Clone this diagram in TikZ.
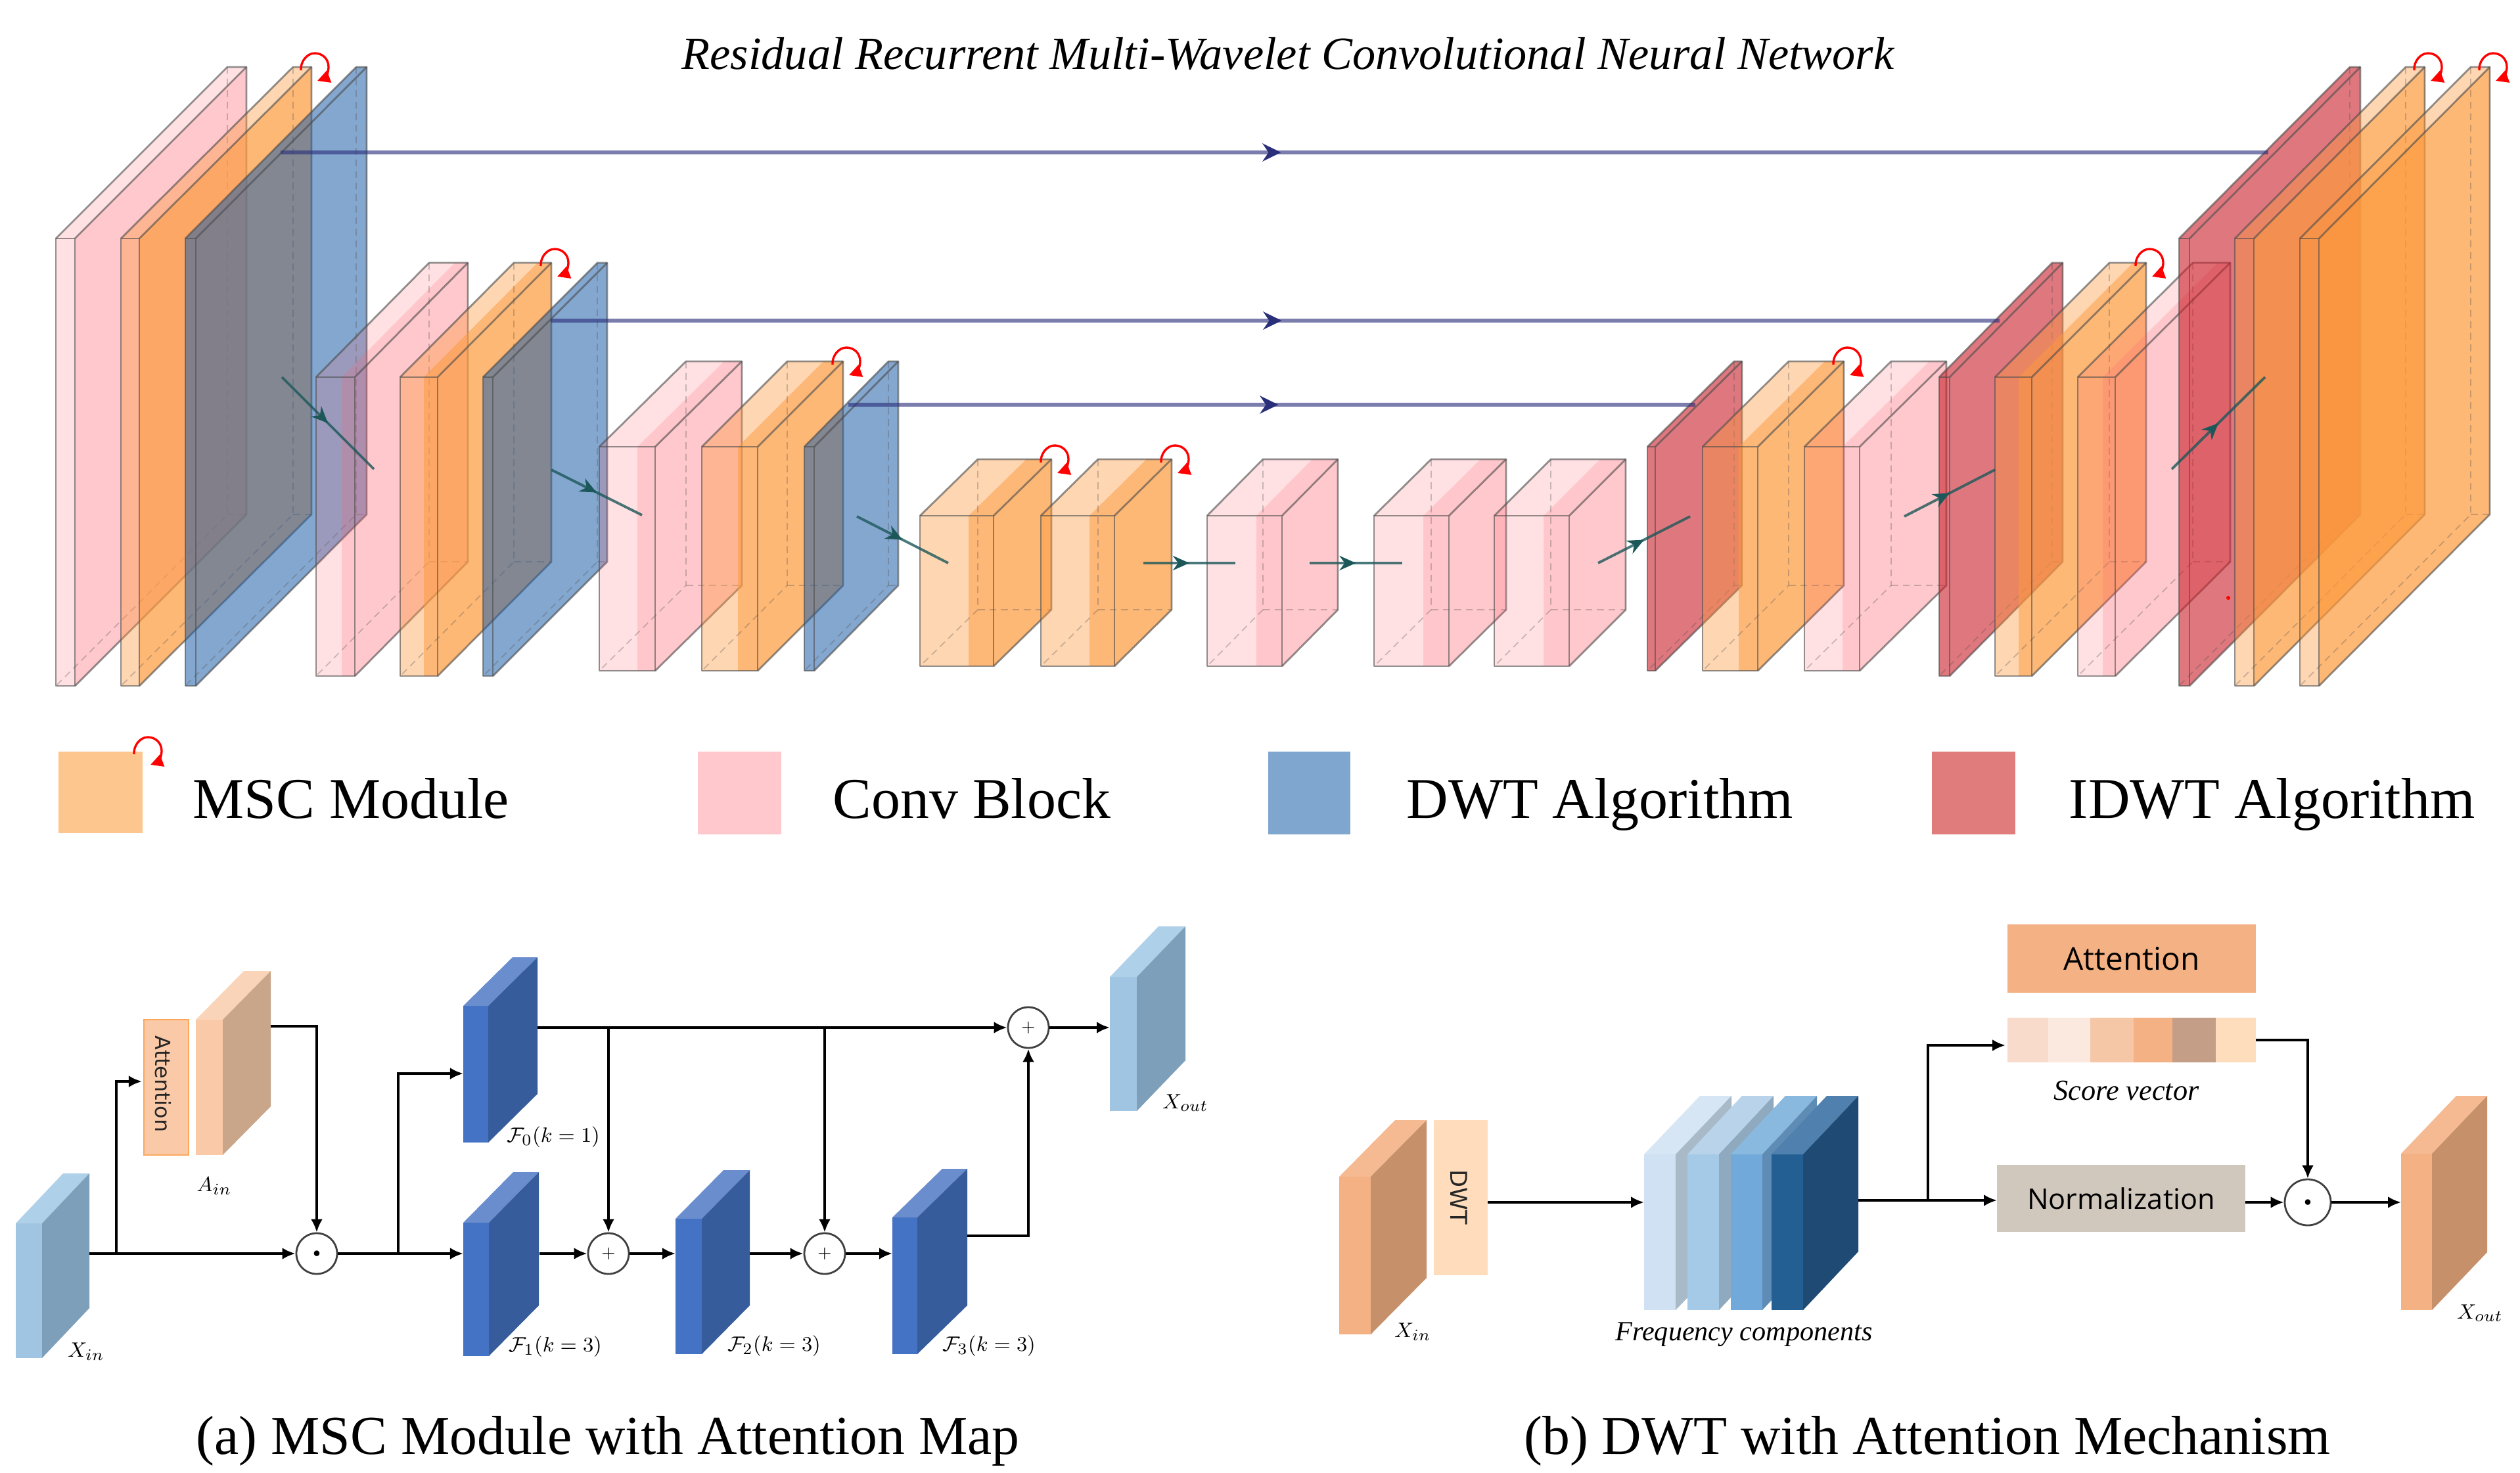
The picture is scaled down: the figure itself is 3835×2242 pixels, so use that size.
\documentclass[tikz,border=0pt]{standalone}
\usepackage{fontspec}
\usepackage{amsmath,amssymb}
\usetikzlibrary{arrows.meta,calc,decorations.markings}
\newfontfamily\tms{Liberation Serif}
\newfontfamily\djv{DejaVu Sans}
\newfontfamily\opn{Open Sans}
% colours of the translucent network faces
\definecolor{cOrange}{RGB}{253,154,61}
\definecolor{cPink}{RGB}{255,98,109}
\definecolor{cBlue}{RGB}{31,95,168}
\definecolor{cRed}{RGB}{200,30,40}
\definecolor{lgOrange}{RGB}{253,198,142}
\definecolor{lgPink}{RGB}{255,200,204}
\definecolor{lgBlue}{RGB}{126,166,206}
\definecolor{lgRed}{RGB}{224,124,124}
\definecolor{skipc}{RGB}{42,47,122}
\definecolor{tealc}{RGB}{28,88,90}
\definecolor{dwtfill}{RGB}{255,221,188}
\definecolor{normfill}{RGB}{208,199,189}
\definecolor{sv1}{RGB}{248,219,203}
\definecolor{sv2}{RGB}{251,233,223}
\definecolor{sv3}{RGB}{246,199,166}
\definecolor{sv4}{RGB}{244,177,131}
\definecolor{sv5}{RGB}{196,158,134}
\definecolor{sv6}{RGB}{254,221,188}
% panel plates: front, top, side
\definecolor{lb-f}{RGB}{159,197,227}\definecolor{lb-t}{RGB}{175,208,233}\definecolor{lb-s}{RGB}{126,159,185}
\definecolor{db-f}{RGB}{68,114,196}\definecolor{db-t}{RGB}{106,141,206}\definecolor{db-s}{RGB}{54,92,156}
\definecolor{pe-f}{RGB}{250,201,168}\definecolor{pe-t}{RGB}{250,212,184}\definecolor{pe-s}{RGB}{201,165,138}
\definecolor{or-f}{RGB}{244,177,131}\definecolor{or-t}{RGB}{245,186,145}\definecolor{or-s}{RGB}{197,144,106}
\definecolor{f1-f}{RGB}{207,225,242}\definecolor{f1-t}{RGB}{214,230,244}\definecolor{f1-s}{RGB}{168,185,200}
\definecolor{f2-f}{RGB}{165,202,231}\definecolor{f2-t}{RGB}{185,212,234}\definecolor{f2-s}{RGB}{143,169,191}
\definecolor{f3-f}{RGB}{112,169,218}\definecolor{f3-t}{RGB}{138,185,224}\definecolor{f3-s}{RGB}{95,140,181}
\definecolor{f4-f}{RGB}{36,95,148}\definecolor{f4-t}{RGB}{80,128,174}\definecolor{f4-s}{RGB}{31,74,115}
\tikzset{
  x=0.01cm,y=-0.01cm,
  lightOrange/.style={fill=cOrange,fill opacity=.397},
  mainOrange/.style={fill=cOrange,fill opacity=.70},
  bandOrange/.style={fill=cOrange,fill opacity=.50},
  lightPink/.style={fill=cPink,fill opacity=.19},
  mainPink/.style={fill=cPink,fill opacity=.35},
  bandPink/.style={fill=cPink,fill opacity=.20},
  lightBlue/.style={fill=cBlue,fill opacity=.55},
  mainBlue/.style={fill=cBlue,fill opacity=.55},
  bandBlue/.style={fill=cBlue,fill opacity=0},
  lightRed/.style={fill=cRed,fill opacity=.6},
  mainRed/.style={fill=cRed,fill opacity=.6},
  bandRed/.style={fill=cRed,fill opacity=0},
  edgeline/.style={draw=black!70,draw opacity=.6,line width=.8pt,line join=round},
  hiddenline/.style={draw=black!70,draw opacity=.3,line width=.5pt,dash pattern=on 3pt off 2pt},
  skipline/.style={draw=skipc,draw opacity=.62,line width=1.7pt,postaction={decorate},
    decoration={markings,mark=at position .5 with {\arrow[xshift=.1cm,skipc,draw opacity=1,fill opacity=1]{Stealth[length=.28cm,width=.27cm,inset=.09cm]}}}},
  stepline/.style={draw=tealc,draw opacity=.8,line width=1.1pt,postaction={decorate},
    decoration={markings,mark=at position .5 with {\arrow[tealc,draw opacity=1]{Stealth[length=.25cm,width=.22cm,inset=.08cm]}}}},
  loopline/.style={draw=red,line width=.95pt,-{Triangle[length=.19cm,width=.19cm]}},
  flow/.style={draw=black,line width=1.2pt,-{Latex[length=.2cm,width=.18cm]}},
  flowthin/.style={draw=black,line width=.95pt,-{Latex[length=.2cm,width=.18cm]}},
  circ/.style={circle,draw=black!75,line width=.8pt,fill=white,inner sep=0pt,minimum size=.62cm},
  circb/.style={circ,minimum size=.70cm},
  rotlabel/.style={font=\djv\fontsize{9}{11}\selectfont,rotate=-90,inner sep=0pt,text=black!85},
  legendtxt/.style={anchor=base west,inner sep=0pt,font=\tms\fontsize{25}{30}\selectfont},
  captiontxt/.style={inner sep=0pt,font=\tms\fontsize{23.8}{28}\selectfont},
  plab/.style={inner sep=0pt,font=\fontsize{9.5}{11}\selectfont},
  itlab/.style={inner sep=0pt,font=\tms\itshape\fontsize{12.6}{15}\selectfont},
  flatbox/.style={inner sep=0pt,font=\opn\fontsize{13.6}{15}\selectfont},
}
% name, front x, front width, top, bottom, dx, dy, colour, band width
\newcommand\nnblock[9]{%
  \fill[light#8] (#2,#4) rectangle ++(#3,#5-#4);
  \fill[light#8] (#2,#4) -- ++(#6,-#7) -- ++(#3,0) -- ++(-#6,#7) -- cycle;
  \fill[main#8] (#2+#3,#4) -- ++(#6,-#7) -- ++(0,#5-#4) -- ++(-#6,#7) -- cycle;
  \fill[band#8] (#2+#3-#9,#4) rectangle ++(#9,#5-#4);
  \fill[band#8] (#2+#3-#9,#4) -- ++(#6,-#7) -- ++(#9,0) -- ++(-#6,#7) -- cycle;
  \draw[hiddenline] (#2+#6,#4-#7) -- ++(0,#5-#4) -- ++(-#6,#7);
  \draw[hiddenline] (#2+#6,#5-#7) -- ++(#3,0);
  \draw[edgeline] (#2,#4) rectangle ++(#3,#5-#4);
  \draw[edgeline] (#2,#4) -- ++(#6,-#7) -- ++(#3,0) -- ++(0,#5-#4) -- ++(-#6,#7);
  \draw[edgeline] (#2+#3,#4) -- ++(#6,-#7);
  \coordinate (#1) at (#2+#3+#6,#4-#7);
}
% red recurrent loop at a named block corner
\newcommand\recloop[1]{%
  \begin{scope}[shift={(#1)}]
    \draw[loopline] (-16,5) .. controls (-17,-8) and (-7,-21) .. (5,-21)
      .. controls (17,-21) and (26,-12) .. (26,0) .. controls (26,10) and (20,17) .. (9,21);
  \end{scope}}
% x, width, top, bottom, dx, dy, colour prefix
\newcommand\plate[7]{%
  \fill[#7-f] (#1,#3) rectangle ++(#2,#4-#3);
  \fill[#7-t] (#1,#3) -- ++(#5,-#6) -- ++(#2,0) -- ++(-#5,#6) -- cycle;
  \fill[#7-s] (#1+#2,#3) -- ++(#5,-#6) -- ++(0,#4-#3) -- ++(-#5,#6) -- cycle;
}
\begin{document}
\begin{tikzpicture}
\useasboundingbox (0,0) rectangle (3835,2242);
\fill[white] (0,0) rectangle (3835,2242);
% title
\node[inner sep=0pt,font=\tms\itshape\fontsize{20}{24}\selectfont] (title) at (1960,82) {Residual Recurrent Multi-Wavelet Convolutional Neural Network};
% encoder
\nnblock{a}{85}{29}{363}{1044}{261}{261}{Pink}{0}
\nnblock{b}{184}{28}{363}{1044}{262}{261}{Orange}{0}
\nnblock{c}{282}{16}{363}{1044}{260}{261}{Blue}{0}
\nnblock{d}{481}{59}{574}{1029}{172}{174}{Pink}{20}
\nnblock{e}{609}{57}{574}{1029}{173}{174}{Orange}{21}
\nnblock{f}{735}{15}{574}{1029}{174}{174}{Blue}{0}
\nnblock{g}{912}{85}{680}{1021}{132}{130}{Pink}{27}
\nnblock{h}{1068}{85}{680}{1021}{130}{130}{Orange}{30}
\nnblock{i}{1224}{15}{680}{1021}{128}{130}{Blue}{0}
% bottleneck
\nnblock{j}{1400}{112}{785}{1014}{88}{86}{Orange}{38}
\nnblock{k}{1584}{112}{785}{1014}{87}{86}{Orange}{38}
\nnblock{l}{1837}{114}{785}{1014}{85}{86}{Pink}{39}
\nnblock{m}{2091}{114}{785}{1014}{87}{86}{Pink}{39}
\nnblock{n}{2274}{114}{785}{1014}{86}{86}{Pink}{39}
% decoder
\nnblock{o}{2507}{12}{680}{1021}{132}{130}{Red}{0}
\nnblock{p}{2591}{84}{680}{1021}{131}{130}{Orange}{29}
\nnblock{q}{2746}{84}{680}{1021}{132}{130}{Pink}{26}
\nnblock{r}{2951}{16}{574}{1029}{172}{174}{Red}{0}
\nnblock{s}{3036}{56}{574}{1029}{174}{174}{Orange}{20}
\nnblock{t}{3162}{57}{574}{1029}{175}{174}{Pink}{19}
\nnblock{u}{3316}{16}{363}{1044}{260}{261}{Red}{0}
\nnblock{v}{3401}{29}{363}{1044}{260}{261}{Orange}{0}
\nnblock{w}{3500}{29}{363}{1044}{260}{261}{Orange}{0}
% recurrent loops
\foreach \blk in {b,e,h,j,k,p,s,v,w}{\recloop{\blk}}
% stray dot of the original
\fill[red] (3391,910) circle[radius=3];
% skip connections
\coordinate (s1a) at (427,232);\coordinate (s1b) at (3452,232);
\coordinate (s2a) at (838,488);\coordinate (s2b) at (3043,488);
\coordinate (s3a) at (1291,616);\coordinate (s3b) at (2580,616);
\draw[skipline] (s1a) -- (s1b);
\draw[skipline] (s2a) -- (s2b);
\draw[skipline] (s3a) -- (s3b);
% steps between blocks
\coordinate (t1a) at (429,574);\coordinate (t1b) at (569,714);
\coordinate (t2a) at (839,715);\coordinate (t2b) at (977,784);
\coordinate (t3a) at (1304,786);\coordinate (t3b) at (1443,857);
\coordinate (t4a) at (1740,857);\coordinate (t4b) at (1880,857);
\coordinate (t5a) at (1993,857);\coordinate (t5b) at (2134,857);
\coordinate (t6a) at (2432,857);\coordinate (t6b) at (2572,786);
\coordinate (t7a) at (2898,786);\coordinate (t7b) at (3036,715);
\coordinate (t8a) at (3305,714);\coordinate (t8b) at (3447,574);
\foreach \ss in {1,...,8}{\draw[stepline] (t\ss a) -- (t\ss b);}
% legend
\fill[lgOrange] (89,1144) rectangle (217,1268);
\fill[lgPink] (1062,1144) rectangle (1189,1270);
\fill[lgBlue] (1930,1144) rectangle (2055,1270);
\fill[lgRed] (2940,1144) rectangle (3067,1270);
\coordinate (lgloop) at (220,1143);
\recloop{lgloop}
\node[legendtxt] (lg1) at (293,1245) {MSC Module};
\node[legendtxt] (lg2) at (1267,1245) {Conv Block};
\node[legendtxt] (lg3) at (2140,1245) {DWT Algorithm};
\node[legendtxt] (lg4) at (3148,1245) {IDWT Algorithm};
% ---------- panel (a)
\plate{24}{40}{1862}{2067}{72}{76}{lb}
\node[fill=pe-f,draw=orange!45!pe-f,line width=.5pt,minimum width=.68cm,minimum height=2.06cm,inner sep=0pt] (attA) at (253,1655) {};
\node[rotlabel] (attAt) at (248,1650) {Attention};
\plate{298}{41}{1552}{1758}{73}{74}{pe}
\plate{705}{38}{1531}{1739}{75}{74}{db}
\plate{705}{39}{1861}{2064}{76}{77}{db}
\plate{1028}{40}{1855}{2061}{73}{74}{db}
\plate{1358}{38}{1853}{2061}{76}{74}{db}
\plate{1689}{41}{1487}{1691}{74}{77}{lb}
\node[circ] (dotA) at (482,1908) {\tiny$\bullet$};
\node[circ] (plus1) at (926,1908) {\scriptsize$+$};
\node[circ] (plus2) at (1255,1908) {\scriptsize$+$};
\node[circ] (plus3) at (1565,1564) {\scriptsize$+$};
\coordinate (xin) at (136,1908);\coordinate (br1) at (177,1908);\coordinate (attin) at (216,1646);
\coordinate (ain) at (412,1562);\coordinate (br2) at (606,1908);\coordinate (f0in) at (705,1634);
\coordinate (f0out) at (818,1564);\coordinate (f1in) at (705,1908);\coordinate (f1out) at (821,1908);
\coordinate (f2in) at (1028,1908);\coordinate (f2out) at (1141,1908);\coordinate (f3in) at (1358,1908);
\coordinate (f3out) at (1472,1881);\coordinate (xoutin) at (1689,1564);
\coordinate (drop1) at (926,1564);\coordinate (drop2) at (1255,1564);
\draw[flow] (xin) -- (dotA.west);
\draw[flow] (br1) |- (attin);
\draw[flowthin] (ain) -| (dotA.north);
\draw[flow] (dotA.east) -- (f1in);
\draw[flow] (br2) |- (f0in);
\draw[flow] (f0out) -- (plus3.west);
\draw[flowthin] (drop1) -- (plus1.north);
\draw[flowthin] (drop2) -- (plus2.north);
\draw[flow] (f1out) -- (plus1.west);
\draw[flow] (plus1.east) -- (f2in);
\draw[flow] (f2out) -- (plus2.west);
\draw[flow] (plus2.east) -- (f3in);
\draw[flow] (f3out) -| (plus3.south);
\draw[flow] (plus3.east) -- (xoutin);
\node[plab] (lxin) at (131,2057) {$X_{in}$};
\node[plab] (lain) at (326,1805) {$A_{in}$};
\node[plab] (lxout) at (1804,1679) {$X_{out}$};
\node[plab] (lf0) at (842,1731) {$\mathcal{F}_0(k=1)$};
\node[plab] (lf1) at (845,2050) {$\mathcal{F}_1(k=3)$};
\node[plab] (lf2) at (1178,2049) {$\mathcal{F}_2(k=3)$};
\node[plab] (lf3) at (1505,2049) {$\mathcal{F}_3(k=3)$};
\node[captiontxt] (capa) at (925,2193) {(a) MSC Module with Attention Map};
% ---------- panel (b)
\plate{2038}{48}{1791}{2031}{85}{86}{or}
\node[fill=dwtfill,minimum width=.82cm,minimum height=2.36cm,inner sep=0pt] (dwtb) at (2223,1823) {};
\node[rotlabel,font=\djv\fontsize{10}{11}\selectfont] (dwtt) at (2220,1822) {DWT};
\plate{2502}{48}{1757}{1994}{85}{89}{f1}
\plate{2568}{48}{1757}{1994}{83}{89}{f2}
\plate{2634}{48}{1757}{1994}{83}{89}{f3}
\plate{2696}{48}{1757}{1994}{84}{89}{f4}
\plate{3654}{47}{1756}{1994}{84}{88}{or}
\node[flatbox,fill=or-f,minimum width=3.78cm,minimum height=1.03cm] (attb) at (3244,1459) {Attention};
\node[flatbox,fill=normfill,font=\opn\fontsize{12.3}{15}\selectfont,minimum width=3.78cm,minimum height=1.02cm] (norm) at (3228,1824) {Normalization};
\fill[sv1] (3055,1549) rectangle (3117,1617);
\fill[sv2] (3117,1549) rectangle (3181,1617);
\fill[sv3] (3181,1549) rectangle (3247,1617);
\fill[sv4] (3247,1549) rectangle (3306,1617);
\fill[sv5] (3306,1549) rectangle (3372,1617);
\fill[sv6] (3372,1549) rectangle (3433,1617);
\node[circb] (dotB) at (3512,1830) {\tiny$\bullet$};
\coordinate (dwtout) at (2264,1830);\coordinate (fcin) at (2502,1830);\coordinate (fcout) at (2828,1827);
\coordinate (normin) at (3039,1827);\coordinate (br3) at (2934,1827);\coordinate (scin) at (3052,1591);
\coordinate (scout) at (3433,1583);\coordinate (normout) at (3417,1830);\coordinate (xbout) at (3654,1830);
\draw[flow] (dwtout) -- (fcin);
\draw[flow] (fcout) -- (normin);
\draw[flow] (br3) |- (scin);
\draw[flowthin] (scout) -| (dotB.north);
\draw[flow] (normout) -- (dotB.west);
\draw[flow] (dotB.east) -- (xbout);
\node[plab] (lbxin) at (2150,2027) {$X_{in}$};
\node[plab] (lbxout) at (3774,1999) {$X_{out}$};
\node[itlab,font=\tms\itshape\fontsize{12}{15}\selectfont] (lfc) at (2654,2031) {Frequency components};
\node[itlab] (lsv) at (3236,1660) {Score vector};
\node[captiontxt] (capb) at (2933,2193) {(b) DWT with Attention Mechanism};
\end{tikzpicture}
\end{document}
